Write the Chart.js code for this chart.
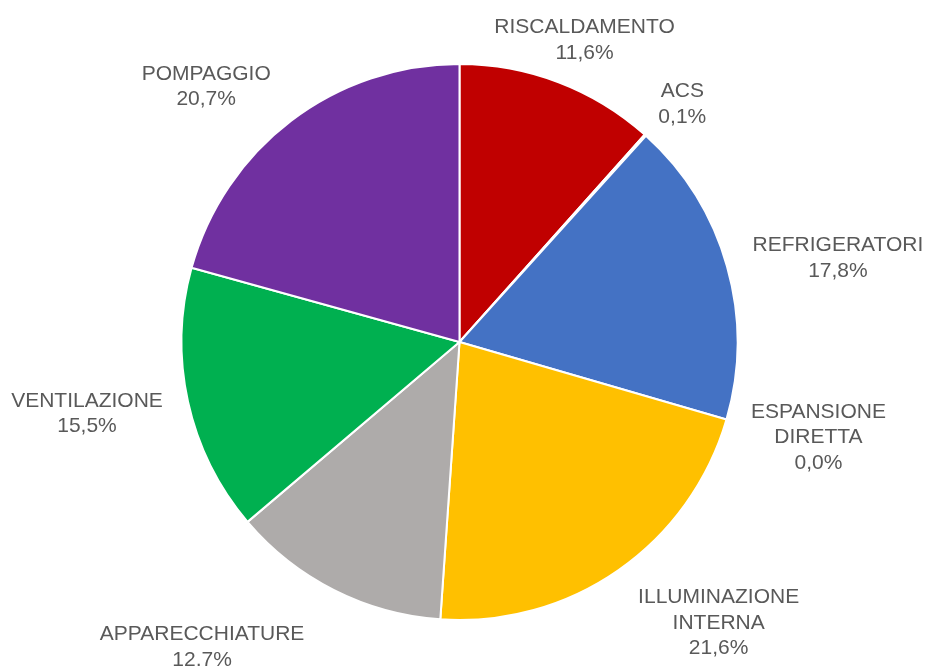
<!DOCTYPE html>
<html>
<head>
<meta charset="utf-8">
<script src="https://cdn.jsdelivr.net/npm/chart.js@4.4.1/dist/chart.umd.min.js"></script>
<style>
  html, body { margin: 0; padding: 0; background: #ffffff; }
  #wrap { width: 927px; height: 666px; position: relative; }
</style>
</head>
<body>
<div id="wrap"><canvas id="c" width="927" height="666"></canvas></div>
<script>
// ---- data ----
const categories = [
  ["RISCALDAMENTO"],
  ["ACS"],
  ["REFRIGERATORI"],
  ["ESPANSIONE", "DIRETTA"],
  ["ILLUMINAZIONE", "INTERNA"],
  ["APPARECCHIATURE"],
  ["VENTILAZIONE"],
  ["POMPAGGIO"]
];
const values = [11.6, 0.1, 17.8, 0.0, 21.6, 12.7, 15.5, 20.7];
const colors = ["#C00000", "#ED7D31", "#4472C4", "#FFC000", "#FFC000", "#AEABAA", "#00B050", "#7030A0"];
// label offsets (px) from the slice's outer edge at its mid-angle
const labelOffsets = [
  [26, -42], [37, -31], [111, -8], [92, 18], [100, 53], [-132, 57], [-101, 12], [-85, -34]
];

const fmt = v => v.toFixed(1).replace(".", ",") + "%";

const labelPlugin = {
  id: "outLabels",
  afterDatasetsDraw(chart) {
    const ctx = chart.ctx;
    const meta = chart.getDatasetMeta(0);
    ctx.save();
    ctx.font = "21px 'Liberation Sans', Arial, sans-serif";
    ctx.fillStyle = "#595959";
    ctx.textAlign = "center";
    ctx.textBaseline = "middle";
    const lh = 25.5;
    meta.data.forEach((arc, i) => {
      const p = arc.getProps(["x", "y", "startAngle", "endAngle", "outerRadius"], true);
      const mid = (p.startAngle + p.endAngle) / 2;
      const ex = p.x + Math.cos(mid) * p.outerRadius;
      const ey = p.y + Math.sin(mid) * p.outerRadius;
      const cx = ex + labelOffsets[i][0];
      const cy = ey + labelOffsets[i][1];
      const lines = categories[i].concat([fmt(values[i])]);
      const top = cy - (lines.length - 1) * lh / 2;
      lines.forEach((t, k) => ctx.fillText(t, cx, top + k * lh));
    });
    ctx.restore();
  }
};

new Chart(document.getElementById("c"), {
  type: "pie",
  data: {
    labels: categories.map(c => c.join(" ")),
    datasets: [{
      data: values,
      backgroundColor: colors,
      borderColor: "#ffffff",
      borderWidth: 2
    }]
  },
  options: {
    responsive: false,
    animation: false,
    layout: { padding: { left: 180, right: 188, top: 63, bottom: 45 } },
    plugins: {
      legend: { display: false },
      tooltip: { enabled: false }
    }
  },
  plugins: [labelPlugin]
});
</script>
</body>
</html>
